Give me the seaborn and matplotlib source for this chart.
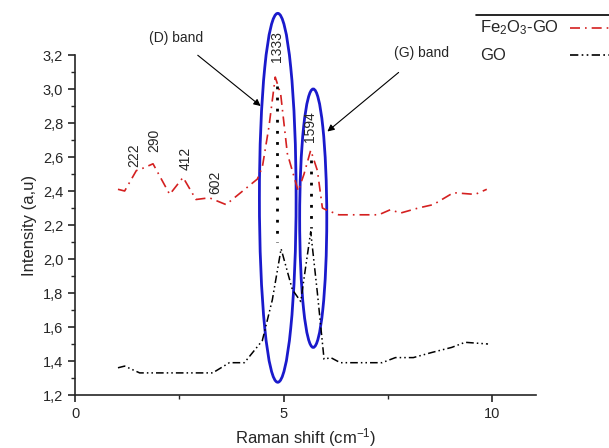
import numpy as np
import pandas as pd
import matplotlib
matplotlib.use("Agg")
import matplotlib.pyplot as plt
from matplotlib.patches import Ellipse
from matplotlib.lines import Line2D
import seaborn as sns

# ---- data ----
fe_x = [1.03, 1.19, 1.47, 1.59, 1.87, 2.27, 2.59, 2.90, 3.22, 3.62, 4.37, 4.49, 4.65, 4.80,
        4.93, 5.09, 5.35, 5.49, 5.65, 5.81, 5.93, 6.01, 6.32, 7.28, 7.56, 7.80, 8.23, 8.59,
        9.07, 9.59, 9.87]
fe_y = [2.41, 2.40, 2.52, 2.53, 2.56, 2.38, 2.48, 2.35, 2.36, 2.32, 2.47, 2.54, 2.78, 3.07,
        2.97, 2.62, 2.40, 2.50, 2.64, 2.52, 2.30, 2.29, 2.26, 2.26, 2.29, 2.27, 2.30, 2.32,
        2.39, 2.38, 2.41]
go_x = [1.03, 1.19, 1.55, 3.30, 3.70, 4.06, 4.49, 4.73, 4.94, 5.21, 5.41, 5.65, 5.81, 5.97,
        6.13, 6.36, 7.36, 7.68, 8.11, 8.55, 9.03, 9.35, 9.90]
go_y = [1.36, 1.37, 1.33, 1.33, 1.39, 1.39, 1.52, 1.76, 2.06, 1.82, 1.75, 2.16, 1.80, 1.41,
        1.42, 1.39, 1.39, 1.42, 1.42, 1.45, 1.48, 1.51, 1.50]
series_names = ["Fe$_2$O$_3$-GO", "GO"]
peak_labels = ["222", "290", "412", "602"]
peak_pos = [(1.43, 2.61), (1.89, 2.70), (2.65, 2.59), (3.37, 2.45)]
band_peaks = ["1333", "1594"]
band_x = [4.85, 5.66]

sns.set_style("ticks")
plt.rcParams["font.family"] = ["Liberation Sans", "DejaVu Sans"]
plt.rcParams["mathtext.fontset"] = "custom"
plt.rcParams["mathtext.rm"] = "Liberation Sans"
plt.rcParams["mathtext.it"] = "Liberation Sans"

fig = plt.figure(figsize=(6.09, 4.48), dpi=100)
ax = fig.add_axes([75/609, 1-395/448, (536-75)/609, (395-55)/448])

colors = ["#d42020", "black"]
styles = [(0, (6, 3, 1, 3)), (0, (5, 2, 1, 2, 1, 2))]

df_fe = pd.DataFrame({"x": fe_x, "y": fe_y})
df_go = pd.DataFrame({"x": go_x, "y": go_y})
sns.lineplot(data=df_fe, x="x", y="y", ax=ax, color=colors[0], lw=1.2, sort=False)
sns.lineplot(data=df_go, x="x", y="y", ax=ax, color=colors[1], lw=1.1, sort=False)
ax.lines[0].set_linestyle(styles[0])
ax.lines[1].set_linestyle(styles[1])

# dotted verticals between peaks
ax.plot([band_x[0], band_x[0]], [3.02, 2.10], color="black", ls=(0, (1, 3)), lw=2)
ax.plot([band_x[1], band_x[1]], [2.58, 2.18], color="black", ls=(0, (1, 3)), lw=2)

# ellipses
ax.add_patch(Ellipse((4.86, 2.36), 0.88, 2.17, fill=False, ec="#1a1acc", lw=2, clip_on=False))
ax.add_patch(Ellipse((5.71, 2.24), 0.65, 1.52, fill=False, ec="#1a1acc", lw=2, clip_on=False))

for lab, (px, py) in zip(peak_labels, peak_pos):
    ax.text(px, py, lab, rotation=90, ha="center", va="center", fontsize=10)
ax.text(band_x[0] - 0.02, 3.25, band_peaks[0], rotation=90, ha="center", va="center", fontsize=10)
ax.text(band_x[1] - 0.02, 2.78, band_peaks[1], rotation=90, ha="center", va="center", fontsize=10)

ax.annotate("(D) band", xy=(4.45, 2.90), xytext=(2.43, 3.30), ha="center", va="center",
            fontsize=10, annotation_clip=False,
            arrowprops=dict(arrowstyle="-|>", color="black", lw=0.8, shrinkA=8, shrinkB=0))
ax.annotate("(G) band", xy=(6.05, 2.75), xytext=(8.31, 3.21), ha="center", va="center",
            fontsize=10, annotation_clip=False,
            arrowprops=dict(arrowstyle="-|>", color="black", lw=0.8, shrinkA=10, shrinkB=0))

ax.set_xlim(0, 11.05)
ax.set_ylim(1.2, 3.2)
ax.set_xticks([0, 5, 10])
ax.set_xticks([2.5, 7.5], minor=True)
ax.set_yticks(np.arange(1.2, 3.21, 0.2))
ax.set_yticks(np.arange(1.3, 3.2, 0.2), minor=True)
ax.set_yticklabels([f"{v:.1f}".replace(".", ",") for v in np.arange(1.2, 3.21, 0.2)])
ax.tick_params(axis="both", which="major", direction="out", length=5, width=1.2, labelsize=10.5)
ax.tick_params(axis="both", which="minor", direction="out", length=3, width=1.0)
for s in ["top", "right"]:
    ax.spines[s].set_visible(False)
for s in ["left", "bottom"]:
    ax.spines[s].set_linewidth(1.2)
ax.set_xlabel("Raman shift (cm$^{-1}$)", fontsize=12)
ax.set_ylabel("Intensity (a,u)", fontsize=12)

# legend (drawn as a table-like block: top rule, labels left, samples right)
fig.add_artist(Line2D([476/609, 1.0], [1-15/448, 1-15/448], color="black", lw=1.2,
                      transform=fig.transFigure))
for i, (name, c, st) in enumerate(zip(series_names, colors, styles)):
    yy = 1 - (28 + 27*i)/448
    fig.text(480/609, yy, name, ha="left", va="center", fontsize=12)
    fig.add_artist(Line2D([570/609, 1.0], [yy, yy], color=c, lw=1.2, ls=st,
                          transform=fig.transFigure))

fig.savefig("out.png", dpi=100)
